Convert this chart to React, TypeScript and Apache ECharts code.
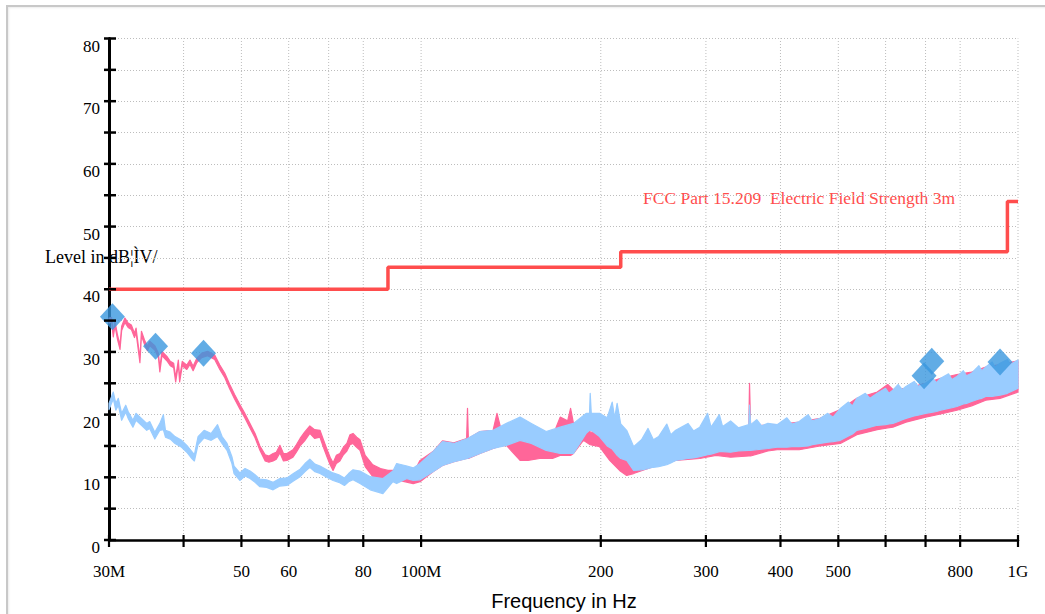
import React, { useEffect, useRef } from 'react';
import * as echarts from 'echarts';

// ---- axis ticks ----
const xTickFreqs = [30, 40, 50, 60, 70, 80, 100, 200, 300, 400, 500, 600, 700, 800, 1000];
const xTickLabels = ['30M', '', '50', '60', '', '80', '100M', '200', '300', '400', '500', '', '', '800', '1G'];
const yTickValues = [0, 5, 10, 15, 20, 25, 30, 35, 40, 45, 50, 55, 60, 65, 70, 75, 80];
const yLabelValues = [0, 10, 20, 30, 40, 50, 60, 70, 80];

// ---- limit line (FCC Part 15.209, 3 m) ----
const limitFreq = [30, 88, 88, 216, 216, 960, 960, 1000];
const limitLevel = [40, 40, 43.5, 43.5, 46, 46, 54, 54];

// ---- final measurement points ----
const markerFreq = [30.4, 35.9, 43.2, 696, 717, 933];
const markerLevel = [35.6, 30.9, 29.8, 26.2, 28.5, 28.4];

// ---- traces: [frequency MHz, lower edge dB, upper edge dB] ----
const pinkTrace = [
  [30.0, 34.6, 35.4], [30.3, 34.8, 35.5], [30.5, 32.4, 33.1], [30.7, 34.2, 34.9], [31.0, 32.0, 32.7],
  [31.3, 30.4, 31.1], [31.5, 33.4, 34.1], [31.9, 34.7, 35.4], [32.3, 33.9, 34.6], [32.7, 33.6, 34.3],
  [33.1, 32.3, 33.0], [33.3, 33.1, 33.8], [33.8, 28.3, 29.0], [34.0, 32.6, 33.3], [34.4, 31.2, 31.9],
  [34.8, 30.2, 30.9], [35.1, 31.0, 31.7], [35.8, 30.3, 31.0], [36.3, 29.1, 29.8], [36.5, 26.8, 27.5],
  [36.8, 29.4, 30.1], [37.5, 28.6, 29.3], [38.0, 27.8, 28.5], [38.5, 27.5, 28.2], [38.8, 25.2, 25.9],
  [39.2, 28.0, 28.7], [39.4, 25.2, 25.9], [39.8, 27.8, 28.5], [40.5, 27.2, 27.9], [41.0, 28.0, 28.7],
  [41.5, 27.0, 27.7], [42.1, 28.3, 29.0], [42.9, 29.1, 29.8], [43.9, 29.4, 30.1], [45.1, 28.8, 29.5],
  [46.0, 27.2, 27.9], [46.9, 25.9, 26.6], [47.8, 24.1, 24.8], [48.7, 22.5, 23.2], [49.7, 20.9, 21.6],
  [50.6, 19.6, 20.3], [51.6, 18.0, 18.7], [52.7, 16.3, 17.0], [53.7, 14.3, 15.0], [54.8, 12.6, 13.6],
  [55.6, 12.4, 13.4], [56.5, 12.6, 13.8], [57.2, 12.9, 14.0], [58.0, 13.9, 15.1], [58.8, 12.6, 13.8],
  [59.6, 12.7, 13.8], [61.0, 13.2, 14.4], [61.8, 14.0, 15.2], [62.7, 15.0, 16.2], [63.8, 15.8, 17.2],
  [65.1, 17.0, 18.2], [66.3, 16.2, 17.6], [67.7, 16.4, 17.5], [68.6, 14.8, 16.0], [69.6, 13.2, 14.4],
  [70.4, 12.0, 13.2], [71.2, 11.1, 12.3], [72.1, 12.2, 13.5], [73.1, 12.6, 13.8], [74.1, 13.6, 14.8],
  [75.1, 14.2, 15.4], [76.0, 15.2, 16.8], [76.9, 15.4, 17.0], [78.0, 14.8, 16.4], [79.0, 14.3, 16.0],
  [80.6, 11.7, 13.5], [83.0, 10.1, 12.0], [85.5, 9.8, 11.4], [88.0, 9.6, 11.1], [91.0, 9.6, 11.1],
  [97.0, 9.0, 10.6], [99.6, 9.3, 12.7], [104.7, 10.9, 14.1], [108.6, 11.9, 15.8], [113.5, 12.5, 15.5],
  [119.2, 13.0, 16.2], [119.6, 13.0, 21.0], [120.0, 13.0, 16.2], [125.5, 13.8, 17.3], [132.0, 14.6, 17.5],
  [134.0, 14.8, 20.2], [136.0, 15.0, 17.8], [139.0, 15.1, 18.4], [142.0, 14.1, 18.0], [146.5, 12.7, 18.2],
  [151.0, 12.7, 17.6], [158.0, 13.0, 16.5], [166.0, 13.0, 16.5], [171.0, 13.5, 19.6], [176.0, 13.5, 19.0],
  [178.0, 13.5, 21.0], [180.0, 13.8, 18.6], [187.0, 15.9, 18.9], [192.0, 15.2, 17.2], [199.0, 14.9, 17.2],
  [207.0, 12.7, 17.0], [215.0, 11.1, 16.0], [221.0, 10.3, 15.5], [227.0, 10.6, 14.5], [240.0, 11.4, 15.8],
  [245.0, 11.7, 15.5], [267.0, 12.7, 17.0], [293.0, 13.0, 17.5], [312.0, 13.5, 17.6], [330.0, 13.2, 17.8],
  [354.0, 13.4, 18.0], [355.0, 13.4, 25.0], [356.5, 13.4, 18.0], [381.0, 14.2, 18.4], [395.0, 14.4, 18.4],
  [430.0, 14.4, 18.8], [466.0, 15.0, 19.4], [504.0, 15.4, 20.8], [537.0, 16.8, 22.6], [581.0, 17.6, 23.6],
  [605.0, 17.9, 24.8], [617.0, 18.0, 24.0], [649.0, 18.8, 24.2], [700.0, 19.6, 25.0], [742.0, 20.1, 25.8],
  [790.0, 20.7, 26.4], [836.0, 21.4, 26.8], [883.0, 22.3, 27.6], [933.0, 22.6, 28.0], [1000.0, 23.6, 28.6],
];

const blueTrace = [
  [30.0, 20.8, 21.8], [30.5, 22.5, 23.6], [30.8, 20.7, 21.8], [31.1, 21.5, 22.6], [31.5, 19.1, 20.2],
  [32.0, 20.4, 21.5], [32.3, 19.4, 20.5], [32.9, 18.0, 19.1], [33.3, 19.1, 20.2], [34.0, 18.3, 19.4],
  [34.7, 17.5, 18.6], [35.1, 17.8, 18.9], [35.8, 16.1, 17.2], [36.5, 17.5, 18.6], [37.0, 17.6, 20.0],
  [37.3, 16.4, 17.5], [38.0, 16.1, 17.2], [38.7, 15.4, 16.5], [39.7, 14.8, 15.9], [40.5, 14.0, 15.1],
  [41.3, 13.0, 14.1], [41.7, 12.6, 13.6], [42.3, 15.2, 16.5], [43.3, 16.3, 17.5], [44.5, 15.9, 17.0],
  [45.6, 16.5, 18.4], [46.4, 15.4, 16.5], [47.3, 14.3, 15.4], [48.2, 12.2, 13.3], [48.6, 10.6, 11.8],
  [49.7, 9.5, 10.7], [50.7, 10.2, 11.4], [51.7, 9.8, 11.0], [52.7, 9.2, 10.4], [53.7, 8.5, 9.7],
  [55.1, 8.4, 9.6], [56.5, 8.0, 9.2], [58.0, 8.6, 9.8], [59.6, 8.7, 9.9], [61.1, 9.4, 10.6],
  [62.7, 10.1, 11.3], [63.9, 10.9, 12.2], [65.1, 11.6, 12.9], [66.4, 10.9, 12.1], [67.7, 10.6, 11.8],
  [69.5, 10.0, 11.2], [71.2, 9.5, 10.7], [72.8, 9.2, 10.4], [74.4, 8.7, 9.9], [75.6, 9.3, 10.6],
  [76.9, 9.6, 11.2], [79.0, 9.0, 11.0], [82.2, 8.0, 10.1], [86.3, 7.4, 9.8], [89.7, 9.3, 11.0],
  [91.0, 9.0, 12.2], [94.7, 9.8, 11.8], [97.0, 9.5, 11.5], [99.6, 9.6, 12.2], [104.7, 10.9, 14.1],
  [108.6, 11.9, 15.7], [113.5, 12.5, 15.4], [119.6, 13.0, 16.2], [125.5, 13.8, 17.3], [132.0, 14.6, 17.5],
  [139.0, 15.1, 18.6], [146.5, 15.9, 19.6], [153.0, 15.4, 18.6], [162.0, 14.3, 17.3], [171.0, 13.8, 18.0],
  [180.0, 13.8, 18.6], [189.0, 17.0, 20.2], [191.5, 17.5, 20.2], [192.0, 17.5, 23.4], [192.8, 17.5, 20.2],
  [199.0, 16.5, 20.2], [205.0, 15.0, 19.5], [209.0, 14.5, 22.0], [211.0, 14.0, 19.5], [213.0, 13.5, 21.8],
  [216.0, 13.0, 18.5], [221.0, 12.7, 17.5], [227.0, 11.1, 14.9], [234.0, 11.2, 16.0], [240.0, 11.4, 17.8],
  [245.0, 11.6, 16.0], [250.0, 11.7, 16.5], [258.0, 12.0, 18.5], [262.0, 12.3, 16.8], [267.0, 12.7, 17.5],
  [280.0, 13.0, 18.6], [286.0, 13.1, 17.4], [293.0, 13.3, 18.0], [302.0, 13.6, 20.2], [306.0, 13.7, 18.0],
  [316.0, 14.1, 20.0], [320.0, 14.1, 18.1], [330.0, 14.0, 19.0], [340.0, 14.2, 17.9], [354.0, 14.3, 18.4],
  [355.0, 14.3, 21.5], [356.5, 14.3, 18.4], [365.0, 14.4, 19.2], [372.0, 14.5, 18.2], [381.0, 14.6, 18.6],
  [395.0, 14.8, 18.4], [410.0, 14.8, 19.5], [418.0, 14.9, 18.5], [430.0, 14.9, 18.9], [445.0, 15.0, 20.0],
  [452.0, 15.2, 19.0], [466.0, 15.4, 19.4], [480.0, 15.6, 20.2], [490.0, 15.7, 19.6], [504.0, 15.9, 21.0],
  [520.0, 16.6, 22.0], [528.0, 16.9, 21.4], [537.0, 17.5, 22.6], [555.0, 17.8, 23.4], [565.0, 18.0, 22.6],
  [581.0, 18.3, 23.4], [600.0, 18.4, 24.2], [608.0, 18.5, 23.4], [617.0, 18.6, 23.9], [630.0, 18.9, 24.8],
  [640.0, 19.2, 24.0], [649.0, 19.4, 24.5], [670.0, 19.8, 25.3], [680.0, 19.9, 24.5], [700.0, 20.2, 25.0],
  [720.0, 20.4, 25.8], [730.0, 20.5, 25.1], [742.0, 20.7, 25.8], [765.0, 21.0, 26.5], [775.0, 21.1, 25.6],
  [790.0, 21.3, 26.1], [810.0, 21.7, 27.0], [820.0, 21.8, 26.2], [836.0, 22.1, 26.6], [860.0, 22.5, 27.8],
  [870.0, 22.6, 27.0], [883.0, 22.9, 27.6], [905.0, 22.9, 28.4], [915.0, 23.0, 27.6], [933.0, 23.1, 28.2],
  [960.0, 23.4, 28.8], [970.0, 23.6, 28.0], [1000.0, 24.2, 28.7],
];

const SERIF = 'Liberation Serif';
const SANS = 'Liberation Sans';

function bandSeries(name: string, trace: number[][], color: string, z: number) {
  return {
    type: 'custom',
    name,
    z,
    silent: true,
    data: [[trace[0][0], trace[0][1]]],
    renderItem: (_params: any, api: any) => {
      const pts: number[][] = [];
      for (let i = 0; i < trace.length; i++) pts.push(api.coord([trace[i][0], trace[i][2]]));
      for (let i = trace.length - 1; i >= 0; i--) pts.push(api.coord([trace[i][0], trace[i][1]]));
      return {
        type: 'polygon',
        shape: { points: pts },
        style: { fill: color, stroke: color, lineWidth: 1.2, lineJoin: 'round' },
      };
    },
  };
}

export default function App() {
  const ref = useRef<HTMLDivElement>(null);
  useEffect(() => {
    const chart = echarts.init(ref.current!, null, { renderer: 'svg' });
    const option: any = {
      animation: false,
      grid: { left: 109, right: 27, top: 38.5, bottom: 74, outerBoundsMode: 'none' },
      xAxis: {
        type: 'log',
        logBase: 10,
        min: 30,
        max: 1000,
        axisLine: { show: true, onZero: false, lineStyle: { color: '#000', width: 2.5 } },
        axisTick: { show: false },
        axisLabel: { show: false },
        splitLine: { show: false },
        minorTick: { show: false },
        minorSplitLine: { show: false },
      },
      yAxis: {
        type: 'value',
        min: 0,
        max: 80,
        interval: 5,
        axisLine: { show: true, onZero: false, lineStyle: { color: '#000', width: 3 } },
        axisTick: { show: false },
        axisLabel: { show: false },
        splitLine: { show: true, lineStyle: { color: '#bdbdbd', type: [1, 2], width: 1 } },
      },
      graphic: [
        {
          type: 'text',
          x: 45,
          y: 257,
          silent: true,
          style: { text: 'Level in dB¦ÌV/', fontFamily: SERIF, fontSize: 18, fill: '#000', align: 'left', verticalAlign: 'middle' },
        },
        {
          type: 'text',
          x: 643,
          y: 198,
          silent: true,
          style: {
            text: 'FCC Part 15.209  Electric Field Strength 3m',
            fontFamily: SERIF,
            fontSize: 17.5,
            fill: '#ff4d4d',
            align: 'left',
            verticalAlign: 'middle',
          },
        },
        {
          type: 'text',
          x: 564,
          y: 601,
          silent: true,
          style: { text: 'Frequency in Hz', fontFamily: SANS, fontSize: 20, fill: '#000', align: 'center', verticalAlign: 'middle' },
        },
      ],
      series: [
        {
          type: 'custom',
          name: 'xgrid',
          z: 1,
          silent: true,
          data: xTickFreqs.map((f, i) => [f, 0, i]),
          renderItem: (_p: any, api: any) => {
            const f = api.value(0);
            if (f === 30) return { type: 'group', children: [] };
            const a = api.coord([f, 0]);
            const b = api.coord([f, 80]);
            return {
              type: 'line',
              shape: { x1: a[0], y1: a[1], x2: b[0], y2: b[1] },
              style: { stroke: '#bdbdbd', lineWidth: 1, lineDash: [1, 2] },
            };
          },
        },
        bandSeries('Peak', pinkTrace, '#ff6699', 2),
        bandSeries('Average', blueTrace, '#99ccff', 3),
        {
          type: 'line',
          name: 'Limit',
          z: 5,
          silent: true,
          showSymbol: false,
          data: limitFreq.map((f, i) => [f, limitLevel[i]]),
          lineStyle: { color: '#ff4d4d', width: 3.5 },
        },
        {
          type: 'scatter',
          name: 'Final',
          z: 6,
          silent: true,
          symbol: 'diamond',
          symbolSize: [25, 27],
          itemStyle: { color: '#3a97df' },
          data: markerFreq.map((f, i) => [f, markerLevel[i]]),
        },
        {
          type: 'custom',
          name: 'xticks',
          z: 8,
          silent: true,
          data: xTickFreqs.map((f, i) => [f, 0, i]),
          renderItem: (_p: any, api: any) => {
            const f = api.value(0);
            const i = api.value(2);
            const a = api.coord([f, 0]);
            return {
              type: 'group',
              children: [
                {
                  type: 'line',
                  shape: { x1: a[0], y1: a[1] - 5, x2: a[0], y2: a[1] + 7 },
                  style: { stroke: '#000', lineWidth: 2.2 },
                },
                {
                  type: 'text',
                  x: a[0],
                  y: a[1] + 31,
                  style: {
                    text: xTickLabels[i],
                    fontFamily: SERIF,
                    fontSize: 17,
                    fill: '#000',
                    align: 'center',
                    verticalAlign: 'middle',
                  },
                },
              ],
            };
          },
        },
        {
          type: 'custom',
          name: 'yticks',
          z: 8,
          silent: true,
          data: yTickValues.map((v) => [30, v]),
          renderItem: (_p: any, api: any) => {
            const v = api.value(1);
            const a = api.coord([30, v]);
            return {
              type: 'group',
              children: [
                {
                  type: 'line',
                  shape: { x1: a[0] - 5, y1: a[1], x2: a[0] + 7, y2: a[1] },
                  style: { stroke: '#000', lineWidth: 2.5 },
                },
                {
                  type: 'text',
                  x: a[0] - 9,
                  y: a[1] + 7.5,
                  style: {
                    text: yLabelValues.includes(v) ? String(v) : '',
                    fontFamily: SERIF,
                    fontSize: 17,
                    fill: '#000',
                    align: 'right',
                    verticalAlign: 'middle',
                  },
                },
              ],
            };
          },
        },
      ],
    };
    chart.setOption(option);
    return () => chart.dispose();
  }, []);

  return (
    <div style={{ position: 'absolute', left: 0, top: 0, width: 1045, height: 614, overflow: 'hidden', background: '#fff' }}>
      <div
        style={{
          position: 'absolute',
          left: 6,
          top: 5,
          width: 1200,
          height: 800,
          borderLeft: '2px solid #c8c8c8',
          borderTop: '2px solid #c8c8c8',
          boxShadow: 'inset 1px 1px 2px rgba(0,0,0,0.08)',
        }}
      />
      <div ref={ref} style={{ position: 'absolute', left: 0, top: 0, width: 1045, height: 614 }} />
    </div>
  );
}
